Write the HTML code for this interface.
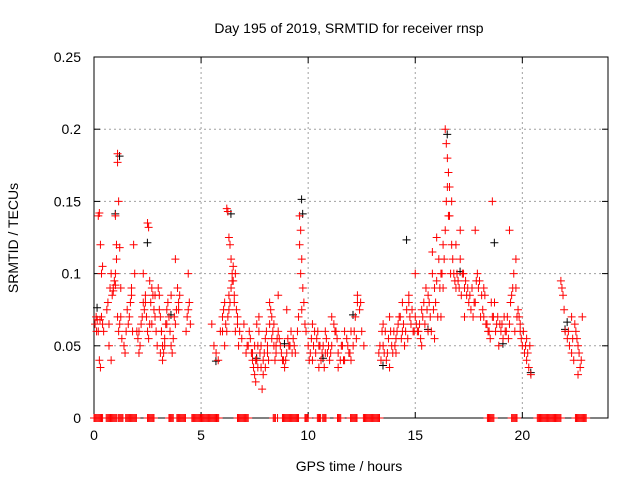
<!DOCTYPE html>
<html><head><meta charset="utf-8"><style>
body{margin:0;background:#fff;}
svg text{font-family:"Liberation Sans",sans-serif;font-size:14px;fill:#000;}
</style></head><body>
<svg id="chart" width="640" height="480">
<rect width="640" height="480" fill="#fff"/>
<g id="grid"></g>
<g id="axes"></g>
<g id="zeros"></g>
<g id="black"></g>
<g id="red"></g>
<text x="349" y="33" text-anchor="middle">Day 195 of 2019, SRMTID for receiver rnsp</text>
<text x="349" y="471" text-anchor="middle">GPS time / hours</text>
<text x="18" y="238" text-anchor="middle" transform="rotate(-90 18 238)">SRMTID / TECUs</text>
</svg>
<script>
const xTicks=[0,5,10,15,20];
const yTicks=[0,0.05,0.1,0.15,0.2,0.25];
const yTickLabels=["0","0.05","0.1","0.15","0.2","0.25"];
const redT=[0.05,0.1,0.15,0.2,0.25,0.3,0.35,0.4,0.45,0.2,0.25,0.3,0.35,0.4,
0.6,0.65,0.7,0.75,0.8,0.85,0.9,0.95,1.0,1.05,1.1,1.15,1.2,1.25,1.3,1.1,1.1,1.15,1.0,1.05,1.2,1.25,0.7,0.8,
1.4,1.45,1.5,1.55,1.6,1.65,1.7,1.75,1.8,1.85,1.9,
2.0,2.05,2.1,2.15,2.2,2.25,2.3,2.35,2.4,2.45,2.5,2.55,2.6,2.65,2.7,2.75,2.8,2.85,2.9,2.95,2.5,2.55,2.3,2.6,
3.0,3.05,3.1,3.15,3.2,3.25,3.3,3.35,3.4,3.45,3.5,3.55,3.6,3.65,3.7,3.75,3.8,3.85,3.9,3.95,4.0,4.35,4.4,4.45,4.5,3.1,3.2,3.3,3.8,4.4,
5.5,5.6,5.7,5.8,5.9,6.0,6.05,6.1,6.15,6.2,6.25,6.3,6.35,6.4,6.45,6.5,6.55,6.6,6.65,6.7,6.75,6.8,6.9,7.0,6.2,6.25,6.3,6.35,6.4,6.5,6.6,
7.1,7.2,7.3,7.35,7.4,7.45,7.5,7.55,7.6,7.65,7.7,7.75,7.8,7.85,7.9,7.95,8.0,8.05,8.1,8.15,8.2,8.25,8.3,8.35,8.4,8.45,8.5,8.55,8.6,8.7,8.8,8.9,9.0,9.1,9.2,9.3,9.4,7.6,7.7,8.2,8.6,9.0,
9.5,9.55,9.6,9.65,9.7,9.75,9.8,9.85,9.9,9.6,9.65,9.7,
10.0,10.1,10.2,10.3,10.4,10.5,10.6,10.7,10.8,10.9,11.0,11.1,11.2,11.3,11.4,11.5,11.6,11.7,11.8,11.9,12.0,12.1,12.2,12.3,12.4,12.5,12.6,10.2,10.5,10.8,11.1,11.4,11.7,12.0,12.3,
13.3,13.4,13.5,13.6,13.7,13.8,13.9,14.0,14.1,14.2,14.3,14.4,14.5,14.6,14.7,14.8,14.9,15.0,13.5,13.8,14.1,14.4,14.7,15.0,
15.1,15.2,15.3,15.4,15.5,15.6,15.7,15.8,15.9,16.0,16.1,16.2,16.3,16.4,16.5,16.6,16.7,16.8,16.9,17.0,17.1,17.2,17.3,17.4,17.5,15.3,15.6,15.9,16.2,16.4,16.45,16.5,16.55,16.6,16.7,16.9,17.1,17.3,15.8,16.0,16.3,
17.6,17.7,17.8,17.9,18.0,18.1,18.2,18.3,18.4,18.5,18.6,18.7,18.8,18.9,19.0,17.8,18.2,18.6,
19.1,19.2,19.3,19.4,19.5,19.6,19.7,19.8,19.9,20.0,20.1,20.2,20.3,20.4,19.4,19.7,19.9,20.2,
21.8,21.9,22.0,22.1,22.2,22.3,22.4,22.5,22.6,22.7,22.8,21.85,22.3,22.6];
const redV=[.065,.07,.068,.06,.04,.035,.07,.065,.06,.14,.142,.12,.1,.105,
.075,.08,.065,.09,.1,.085,.09,.095,.1,.11,.07,.06,.065,.07,.055,.183,.177,.15,.14,.12,.118,.09,.05,.04,
.05,.045,.06,.075,.065,.07,.08,.09,.06,.12,.1,
.06,.055,.045,.05,.065,.07,.08,.075,.085,.07,.06,.055,.065,.08,.09,.085,.075,.07,.06,.05,.135,.132,.1,.095,
.09,.085,.07,.06,.05,.045,.055,.065,.075,.08,.07,.06,.05,.045,.055,.07,.065,.075,.09,.08,.085,.07,.075,.08,.065,.045,.04,.05,.11,.1,
.065,.05,.045,.04,.06,.07,.075,.08,.065,.06,.07,.085,.08,.09,.1,.095,.085,.06,.075,.07,.05,.06,.055,.065,.145,.143,.125,.12,.11,.105,.1,
.045,.05,.055,.045,.04,.035,.03,.025,.04,.05,.06,.045,.035,.02,.03,.045,.055,.06,.05,.04,.065,.075,.07,.06,.05,.04,.045,.055,.06,.05,.04,.035,.045,.05,.06,.055,.045,.065,.07,.08,.085,.075,
.06,.07,.14,.13,.11,.09,.08,.065,.06,.12,.1,.075,
.05,.045,.04,.06,.055,.035,.04,.05,.06,.045,.04,.05,.065,.06,.045,.04,.05,.06,.055,.045,.04,.05,.07,.085,.075,.06,.05,.065,.05,.045,.07,.035,.04,.06,.08,
.045,.04,.05,.06,.045,.035,.05,.06,.055,.065,.07,.06,.05,.075,.08,.065,.06,.07,.065,.07,.045,.08,.085,.1,
.06,.065,.075,.08,.09,.085,.07,.1,.09,.095,.11,.1,.12,.13,.16,.14,.12,.1,.09,.095,.11,.1,.09,.085,.08,.05,.06,.055,.07,.2,.19,.18,.17,.16,.15,.12,.13,.07,.115,.125,.09,
.075,.07,.08,.1,.095,.085,.07,.065,.06,.055,.07,.08,.065,.05,.06,.13,.09,.15,
.055,.06,.07,.065,.085,.1,.09,.075,.06,.05,.045,.04,.035,.03,.13,.11,.065,.055,
.095,.085,.06,.055,.05,.045,.04,.06,.05,.035,.07,.09,.07,.03];
const redT2=[0.12,0.28,0.9,1.0,1.75,2.1,2.4,2.7,2.85,3.05,3.15,3.4,3.6,3.95,4.3,
6.0,6.1,6.3,6.45,6.55,6.7,
7.15,7.25,7.4,7.5,7.55,7.65,7.8,7.9,8.0,8.1,8.3,8.4,8.5,8.65,8.75,8.85,8.95,9.05,9.15,9.25,9.35,
10.05,10.15,10.25,10.35,10.45,10.55,10.65,10.75,10.85,10.95,11.05,11.25,11.35,11.55,11.65,11.85,11.95,12.15,12.25,12.45,
13.35,13.45,13.55,13.65,13.75,13.85,13.95,14.05,14.15,14.25,14.35,14.45,14.55,14.65,14.75,14.85,14.95,
15.05,15.15,15.25,15.35,15.45,15.55,15.65,15.75,15.85,15.95,16.05,16.15,16.25,16.35,16.45,16.55,16.65,16.75,16.85,16.95,17.05,17.15,17.25,17.35,17.45,
17.55,17.65,17.75,17.85,17.95,18.05,18.15,18.25,18.35,18.45,18.55,18.65,18.75,18.85,18.95,
19.05,19.15,19.25,19.35,19.45,19.55,19.65,19.75,19.85,19.95,20.05,20.15,20.25,20.35,
21.95,22.15,22.35,22.45,22.55,22.65,22.75];
const redV2=[.06,.068,.088,.092,.085,.06,.08,.065,.085,.075,.06,.065,.085,.075,.06,
.06,.05,.075,.095,.08,.065,
.05,.06,.045,.05,.04,.035,.05,.04,.035,.045,.055,.065,.05,.055,.045,.04,.04,.055,.05,.045,.05,
.04,.055,.05,.045,.06,.05,.045,.035,.055,.05,.045,.06,.055,.05,.04,.05,.045,.06,.055,.08,
.05,.06,.045,.04,.055,.06,.045,.05,.06,.07,.055,.065,.06,.055,.07,.075,.06,
.065,.06,.055,.07,.065,.075,.08,.06,.075,.08,.07,.09,.1,.11,.15,.14,.1,.11,.095,.1,.09,.085,.1,.095,.09,
.085,.09,.08,.095,.09,.07,.075,.085,.065,.06,.08,.07,.06,.07,.065,
.065,.07,.06,.055,.08,.09,.06,.07,.07,.055,.06,.05,.045,.05,
.075,.06,.055,.065,.055,.045,.04];
const blackT=[0.05,1.1,6.3,9.6,9.65,14.5,18.6,16.4,22.0,20.3,7.5,12.0,3.5,17.0,19.0,0.9,2.4,5.6,8.8,10.6,13.4,15.5,21.9];
const blackV=[.075,.18,.14,.15,.14,.122,.12,.195,.065,.03,.04,.07,.07,.1,.05,.14,.12,.038,.05,.04,.035,.06,.06];
const zeroStart=[0,0.57,1.15,1.48,2.5,3.5,3.87,4.57,6.7,6.95,8.37,8.57,8.8,9.85,10.43,10.68,11.37,11.98,12.58,18.37,19.5,20.7,22.48];
const zeroEnd=[0.4,1.07,1.37,2.0,2.8,3.7,4.3,5.85,6.9,7.2,8.5,8.6,9.57,10.0,10.6,10.87,11.53,12.28,13.37,18.7,19.77,21.8,22.98];

const L=94,R=608,T=57,B=418;
const X=t=>L+t*(R-L)/24;
const Y=v=>B-v*(B-T)/0.25;
const NS='http://www.w3.org/2000/svg';
function mk(tag,attrs,parent){const e=document.createElementNS(NS,tag);for(const k in attrs)e.setAttribute(k,attrs[k]);parent.appendChild(e);return e;}
const grid=document.getElementById('grid'),axes=document.getElementById('axes');
xTicks.forEach((t,i)=>{
  if(t>0){const g=mk('line',{x1:X(t),x2:X(t),y1:T,y2:B,stroke:'#a0a0a0','stroke-dasharray':'2,3'},grid);
  
  }
  mk('line',{x1:X(t),x2:X(t),y1:B,y2:B-6,stroke:'#000'},axes);
  mk('line',{x1:X(t),x2:X(t),y1:T,y2:T+6,stroke:'#000'},axes);
  const tx=mk('text',{x:X(t),y:B+22,'text-anchor':'middle'},axes);tx.textContent=String(t);
  
  
});
yTicks.forEach((v,i)=>{
  if(v>0&&v<0.25){const g=mk('line',{x1:L,x2:R,y1:Y(v),y2:Y(v),stroke:'#a0a0a0','stroke-dasharray':'2,3'},grid);
  
  }
  mk('line',{x1:L,x2:L+6,y1:Y(v),y2:Y(v),stroke:'#000'},axes);
  mk('line',{x1:R,x2:R-6,y1:Y(v),y2:Y(v),stroke:'#000'},axes);
  const tx=mk('text',{x:L-13,y:Y(v)+5,'text-anchor':'end'},axes);tx.textContent=yTickLabels[i];
  
  
});
const frame=mk('rect',{x:L,y:T,width:R-L,height:B-T,fill:'none',stroke:'#000'},axes);


function plus(g,x,y,c){mk('path',{d:`M${x-4},${y}h8M${x},${y-4}v8`,stroke:c,'stroke-width':1,fill:'none'},g);}
const bg=document.getElementById('black');
blackT.forEach((t,i)=>plus(bg,X(t)+2,Y(blackV[i])-2,'#000'));
const rg=document.getElementById('red');
redT.forEach((t,i)=>plus(rg,X(redT[i]),Y(redV[i]),'#f00'));
redT2.forEach((t,i)=>plus(rg,X(redT2[i]),Y(redV2[i]),'#f00'));
const zg=document.getElementById('zeros');
zeroStart.forEach((s,i)=>{for(let t=s;t<=zeroEnd[i]+1e-9;t+=0.05)plus(zg,X(t),Y(0),'#f00');});
</script>
</body></html>
